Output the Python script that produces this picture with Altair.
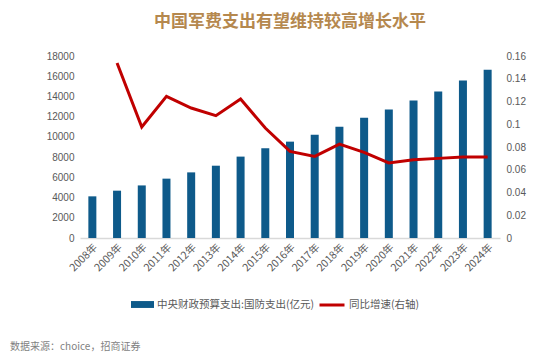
import altair as alt
import pandas as pd

years = ["2008年", "2009年", "2010年", "2011年", "2012年", "2013年", "2014年", "2015年", "2016年",
         "2017年", "2018年", "2019年", "2020年", "2021年", "2022年", "2023年", "2024年"]
budget = [4120, 4680, 5200, 5870, 6490, 7150, 8050, 8870, 9530, 10220, 11010, 11900, 12700,
          13590, 14480, 15570, 16650]
growth = [None, 0.1538, 0.0976, 0.1245, 0.1143, 0.1075, 0.1222, 0.0967, 0.0761, 0.0717, 0.0826,
          0.0753, 0.0660, 0.0688, 0.0700, 0.0712, 0.0712]

bar_label = "中央财政预算支出:国防支出(亿元)"
line_label = "同比增速(右轴)"
title_text = "中国军费支出有望维持较高增长水平"
source_text = "数据来源：choice，招商证券"

df = pd.DataFrame({"year": years, "budget": budget, "growth": growth})
df["s1"] = bar_label
df["s2"] = line_label

FONT = "Noto Sans CJK SC"
GRAY = "#595959"
BLUE = "#0E5A8A"
RED = "#C00000"

base = alt.Chart(df)

bars = base.mark_bar(size=8, color=BLUE).encode(
    x=alt.X("year:N", sort=years, title=None,
            axis=alt.Axis(labelAngle=-45, ticks=False, domainColor="#D9D9D9", domainWidth=1.5,
                          labelColor=GRAY, labelFontSize=10.5, labelFont=FONT, labelPadding=4)),
    y=alt.Y("budget:Q", title=None,
            scale=alt.Scale(domain=[0, 18000], nice=False),
            axis=alt.Axis(values=list(range(0, 18001, 2000)), format="d", grid=False, domain=False,
                          ticks=False, labelColor=GRAY, labelFontSize=10,
                          labelFont="Liberation Sans", labelPadding=6)),
    fill=alt.Fill("s1:N", scale=alt.Scale(domain=[bar_label], range=[BLUE]),
                  legend=alt.Legend(title=None, orient="none", legendX=51, legendY=237,
                                    symbolType="M-1,-0.3H1V0.3H-1Z", symbolSize=529,
                                    symbolStrokeWidth=0, labelLimit=0,
                                    labelFont=FONT, labelFontSize=10.5, labelColor=GRAY,
                                    labelOffset=3)),
)

line = base.transform_filter("isValid(datum.growth)").mark_line(strokeWidth=3, color=RED).encode(
    x=alt.X("year:N", sort=years),
    y=alt.Y("growth:Q", title=None,
            scale=alt.Scale(domain=[0, 0.16], nice=False),
            axis=alt.Axis(orient="right", values=[0, 0.02, 0.04, 0.06, 0.08, 0.1, 0.12, 0.14, 0.16],
                          labelExpr="format(datum.value, '.2~f')",
                          grid=False, domain=False, ticks=False,
                          labelColor=GRAY, labelFontSize=10, labelFont="Liberation Sans",
                          labelPadding=6)),
    stroke=alt.Stroke("s2:N", scale=alt.Scale(domain=[line_label], range=[RED]),
                      legend=alt.Legend(title=None, orient="none", legendX=238, legendY=235,
                                        symbolType="stroke", symbolSize=625, symbolStrokeWidth=3,
                                        labelLimit=0,
                                        labelFont=FONT, labelFontSize=10.5, labelColor=GRAY,
                                        labelOffset=3)),
)

src = alt.Chart(pd.DataFrame({"t": [source_text]})).mark_text(
    align="left", baseline="middle", font=FONT, fontSize=10, color="#7F7F7F"
).encode(text="t:N", x=alt.value(-70), y=alt.value(291))

chart = alt.layer(bars, line, src).resolve_scale(y="independent").properties(
    width=420,
    height=182,
    title=alt.TitleParams(title_text, anchor="middle", font=FONT, fontSize=17, fontWeight="bold",
                          color="#B5884E", offset=20),
    autosize=alt.AutoSizeParams(type="none"),
    padding={"left": 72, "top": 48, "right": 40, "bottom": 117},
).configure_view(stroke=None)

chart.save("out.html", embed_options={"renderer": "svg", "actions": False})
